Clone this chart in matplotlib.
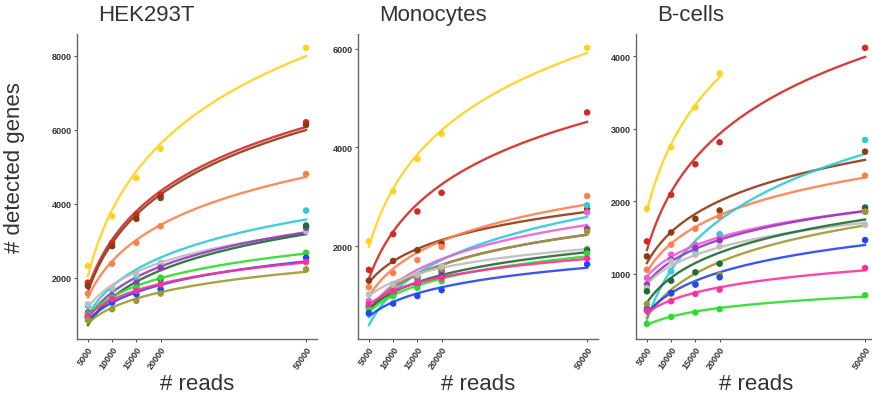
import numpy as np
import matplotlib
matplotlib.use("Agg")
from matplotlib import pyplot as plt

plt.rcParams["font.family"] = ["Liberation Sans", "DejaVu Sans"]

reads = [5000, 10000, 15000, 20000, 50000]
read_ticks = ["5000", "10000", "15000", "20000", "50000"]

colors = {
    "gold": "#FFD21F", "red": "#D12A24", "brown": "#8E3A16", "coral": "#FF7F4F",
    "cyan": "#2CCBD8", "purple": "#9B35C0", "pink": "#E860D8", "grey": "#BDBDBD",
    "darkgreen": "#1F6B35", "olive": "#9C9A2E", "blue": "#2345F5",
    "magenta": "#FF2FA0", "green": "#2BDD2B",
}

hek = {
    "gold": [2317, 3664, 4697, 5487, 8217],
    "red": [1868, 2945, 3709, 4248, 6205],
    "brown": [1778, 2855, 3592, 4158, 6133],
    "coral": [1571, 2380, 2945, 3394, 4804],
    "cyan": [1239, 1688, 2003, 2362, 3817],
    "grey": [1284, 1733, 2092, 2407, 3260],
    "purple": [1060, 1509, 1868, 2272, 3350],
    "darkgreen": [925, 1419, 1733, 1958, 3412],
    "green": [1015, 1464, 1733, 2003, 2676],
    "blue": [925, 1329, 1554, 1688, 2541],
    "magenta": [970, 1419, 1643, 1823, 2425],
    "olive": [853, 1149, 1374, 1571, 2227],
}

mono = {
    "gold": [2099, 3114, 3764, 4275, 6013],
    "red": [1522, 2245, 2703, 3081, 4706],
    "brown": [1303, 1701, 1920, 2053, 2750],
    "coral": [1171, 1456, 1721, 1986, 3015],
    "cyan": [627, 992, 1290, 1489, 2829],
    "pink": [892, 1224, 1370, 1436, 2683],
    "purple": [793, 1157, 1356, 1489, 2351],
    "olive": [760, 1157, 1390, 1542, 2298],
    "grey": [1025, 1224, 1423, 1589, 1953],
    "darkgreen": [760, 1058, 1224, 1390, 1920],
    "green": [727, 992, 1157, 1290, 1854],
    "magenta": [826, 1091, 1257, 1356, 1754],
    "blue": [647, 839, 992, 1111, 1635],
}

bcells = {
    "gold": [1899, 2748, 3298, 3766, None],
    "red": [1450, 2092, 2514, 2817, 4119],
    "brown": [1243, 1573, 1761, 1876, 2688],
    "coral": [1060, 1404, 1624, 1794, 2358],
    "cyan": [532, 1037, 1312, 1550, 2849],
    "pink": [945, 1266, 1404, 1495, 1862],
    "purple": [853, 1197, 1358, 1463, 1862],
    "grey": [807, 1174, 1266, 1380, 1679],
    "darkgreen": [761, 908, 1023, 1142, 1917],
    "olive": [587, 725, 862, 991, 1862],
    "blue": [509, 739, 853, 954, 1468],
    "magenta": [495, 624, 725, 784, 1083],
    "green": [312, 408, 468, 514, 706],
}

panels = [("HEK293T", hek, [2000, 4000, 6000, 8000]),
          ("Monocytes", mono, [2000, 4000, 6000]),
          ("B-cells", bcells, [1000, 2000, 3000, 4000])]

W, H = 872, 406
fig = plt.figure(figsize=(W / 100, H / 100), dpi=100)
lefts = [77, 358, 636]
width = 240

for (title, data, yt), left in zip(panels, lefts):
    ax = fig.add_axes([left / W, 1 - 340 / H, width / W, 305 / H])
    for name, vals in data.items():
        x = np.array([r for r, v in zip(reads, vals) if v is not None], float)
        y = np.array([v for v in vals if v is not None], float)
        b, a = np.polyfit(np.log(x), y, 1)
        xs = np.linspace(x.min(), x.max(), 200)
        ax.plot(xs, a + b * np.log(xs), color=colors[name], lw=1.7, alpha=0.9)
        ax.scatter(x, y, s=22, color=colors[name], zorder=3, edgecolors="none")
    ax.margins(x=0.05, y=0.05)
    ax.set_xticks(reads)
    ax.set_xticklabels(read_ticks, rotation=55, ha="right", rotation_mode="anchor",
                       fontsize=6.5, fontweight="bold", color="#333333")
    ax.set_yticks(yt)
    ax.set_yticklabels([str(v) for v in yt], fontsize=6.5, fontweight="bold", color="#333333")
    ax.tick_params(length=2, width=0.8, color="#555555", pad=2)
    for s in ["top", "right"]:
        ax.spines[s].set_visible(False)
    for s in ["left", "bottom"]:
        ax.spines[s].set_color("#666666")
        ax.spines[s].set_linewidth(1.0)
    ax.text(0.09, 1.03, title, transform=ax.transAxes, fontsize=16, color="#333333",
            ha="left", va="bottom")
    ax.set_xlabel("# reads", fontsize=16, color="#333333", labelpad=2)
    if title == "HEK293T":
        ax.set_ylabel("# detected genes", fontsize=16, color="#333333")
        ax.yaxis.set_label_coords(-0.215, 0.565)

fig.savefig("out.png", dpi=100)
